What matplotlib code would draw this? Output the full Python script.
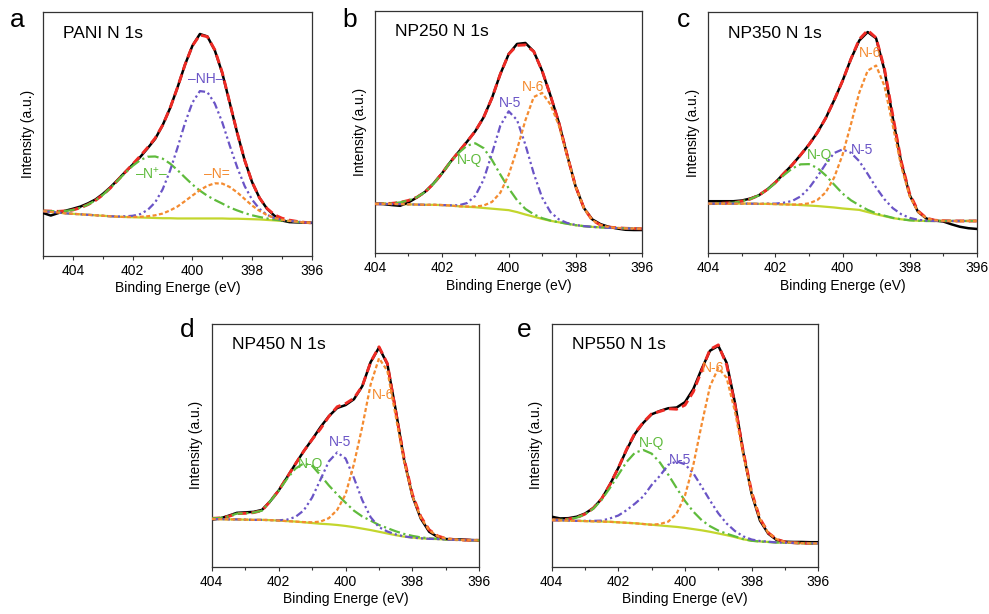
import matplotlib
matplotlib.use("Agg")
import matplotlib.pyplot as plt
from matplotlib.ticker import MultipleLocator
import numpy as np

plt.rcParams['font.family'] = ['Liberation Sans', 'DejaVu Sans']
plt.rcParams['mathtext.fontset'] = 'custom'
plt.rcParams['mathtext.rm'] = 'Liberation Sans'
plt.rcParams['mathtext.it'] = 'Liberation Sans'

# ---------------- data (binding energy in eV, intensity in a.u.) ----------------
BE_A = [405.0, 404.75, 404.5, 404.25, 404.0, 403.75, 403.5, 403.25, 403.0, 402.75,
        402.5, 402.25, 402.0, 401.75, 401.5, 401.25, 401.0, 400.75, 400.5, 400.25,
        400.0, 399.75, 399.5, 399.25, 399.0, 398.75, 398.5, 398.25, 398.0, 397.75,
        397.5, 397.25, 397.0, 396.75, 396.5, 396.25, 396.0]
BE = [404.0, 403.75, 403.5, 403.25, 403.0, 402.75, 402.5, 402.25, 402.0, 401.75,
      401.5, 401.25, 401.0, 400.75, 400.5, 400.25, 400.0, 399.75, 399.5, 399.25,
      399.0, 398.75, 398.5, 398.25, 398.0, 397.75, 397.5, 397.25, 397.0, 396.75,
      396.5, 396.25, 396.0]

# Panel a: PANI
A_RAW = [17.6, 16.6, 17.6, 18.6, 19.4, 20.3, 21.6, 23.2, 25.5, 28.2, 31.3, 34.5, 37.5,
         40.6, 44.2, 48.0, 53.6, 60.6, 69.1, 78.4, 86.2, 91.0, 90.0, 84.3, 75.0, 62.8,
         50.5, 39.3, 30.3, 23.8, 19.4, 16.5, 14.6, 13.9, 13.8, 13.7, 13.6]
A_BG = [18.4, 18.1, 17.8, 17.5, 17.3, 17.1, 16.9, 16.7, 16.5, 16.3, 16.1, 16.0, 15.9,
        15.8, 15.7, 15.6, 15.5, 15.5, 15.4, 15.4, 15.4, 15.4, 15.4, 15.4, 15.4, 15.3,
        15.3, 15.2, 15.1, 15.0, 14.8, 14.6, 14.4, 14.2, 14.0, 13.8, 13.6]
A_NPLUS = [0.1, 0.3, 0.5, 1.0, 1.6, 2.7, 4.2, 6.1, 8.6, 11.6, 14.9, 18.1, 21.1, 23.5,
           25.0, 25.2, 24.4, 22.4, 19.8, 16.8, 13.9, 11.4, 9.3, 7.6, 6.1, 4.6, 3.4, 2.4,
           1.6, 1.0, 0.6, 0.3, 0.2, 0.1, 0.0, 0.0, 0.0]
A_NH = [0, 0, 0, 0, 0, 0, 0, 0, 0, 0, 0.1, 0.3, 0.6, 1.4, 3.2, 6.4, 11.8, 19.5, 29.0,
        39.1, 47.5, 52.2, 51.8, 47.1, 39.4, 30.0, 21.1, 13.5, 8.0, 4.3, 2.1, 1.0, 0.4,
        0.2, 0.1, 0.0, 0.0]
A_NEQ = [0, 0, 0, 0, 0, 0, 0, 0, 0, 0, 0, 0, 0.1, 0.3, 0.6, 1.1, 1.9, 3.2, 4.9, 7.1,
         9.4, 11.6, 13.4, 14.4, 14.3, 13.0, 10.8, 8.2, 5.6, 3.5, 2.0, 1.0, 0.5, 0.2,
         0.1, 0.0, 0.0]

# Panel b: NP250
B_RAW = [20.4, 20.3, 19.9, 19.6, 21.0, 23.0, 25.4, 28.8, 32.9, 37.6, 41.8, 46.0, 50.4,
         56.1, 64.1, 74.0, 82.2, 86.4, 86.8, 83.3, 75.3, 65.1, 54.0, 40.5, 27.7, 18.7,
         14.0, 12.0, 10.9, 10.2, 9.7, 9.6, 9.6]
B_BG = [20.4, 20.4, 20.3, 20.3, 20.2, 20.1, 20.0, 20.0, 19.9, 19.7, 19.4, 19.2, 19.0,
        18.7, 18.4, 18.1, 17.8, 17.0, 16.0, 15.1, 14.2, 13.4, 12.8, 12.2, 11.6, 11.2,
        10.9, 10.7, 10.5, 10.4, 10.3, 10.2, 10.1]
B_NQ = [0.0, 0.1, 0.3, 0.7, 1.6, 3.0, 5.3, 8.7, 13.0, 17.8, 22.0, 25.2, 26.4, 24.7,
        20.1, 14.4, 9.0, 4.9, 2.3, 1.0, 0.3, 0.1, 0, 0, 0, 0, 0, 0, 0, 0, 0, 0, 0]
B_N5 = [0, 0, 0, 0, 0, 0, 0, 0, 0, 0.1, 0.4, 1.5, 4.7, 11.7, 22.8, 34.6, 40.8, 38.0,
        28.8, 17.8, 8.8, 3.6, 1.2, 0.3, 0.1, 0, 0, 0, 0, 0, 0, 0, 0]
B_N6 = [0, 0, 0, 0, 0, 0, 0, 0, 0, 0, 0, 0.1, 0.3, 1.0, 2.8, 6.9, 14.6, 25.9, 38.9,
        49.4, 52.0, 48.0, 40.0, 28.0, 16.0, 7.5, 2.8, 0.9, 0.3, 0.1, 0, 0, 0]

# Panel c: NP350
C_RAW = [21.6, 21.6, 21.6, 21.6, 21.9, 22.7, 24.0, 26.4, 29.4, 33.1, 36.7, 40.8, 45.1,
         50.1, 56.1, 63.5, 71.5, 80.6, 88.3, 91.8, 89.2, 76.0, 56.0, 37.6, 24.2, 17.2,
         14.4, 13.6, 13.2, 12.0, 11.0, 10.4, 10.1]
C_BG = [20.6, 20.6, 20.6, 20.6, 20.6, 20.6, 20.5, 20.5, 20.4, 20.3, 20.2, 20.0, 19.8,
        19.6, 19.3, 19.0, 18.6, 18.3, 18.0, 17.1, 16.2, 15.4, 14.6, 14.1, 13.7, 13.5,
        13.4, 13.4, 13.4, 13.4, 13.4, 13.4, 13.4]
C_NQ = [0.0, 0.1, 0.2, 0.4, 1.0, 1.9, 3.5, 5.8, 8.8, 12.1, 15.0, 16.9, 17.2, 15.8,
        13.0, 9.5, 6.2, 3.7, 1.9, 0.9, 0.4, 0.2, 0.1, 0, 0, 0, 0, 0, 0, 0, 0, 0, 0]
C_N5 = [0, 0, 0, 0, 0, 0, 0, 0.1, 0.2, 0.7, 1.5, 3.6, 7.2, 12.2, 17.8, 22.6, 24.5,
        23.4, 20.2, 15.8, 11.1, 7.0, 4.1, 2.1, 1.0, 0.4, 0.1, 0, 0, 0, 0, 0, 0]
C_N6 = [0, 0, 0, 0, 0, 0, 0, 0, 0, 0, 0, 0.3, 0.9, 2.5, 6.0, 12.4, 22.2, 35.2, 48.7,
        58.7, 61.7, 54.0, 38.2, 21.9, 10.0, 3.7, 1.1, 0.3, 0.1, 0, 0, 0, 0]

# Panel d: NP450
D_RAW = [19.4, 19.9, 21.0, 22.2, 22.4, 22.6, 23.4, 27.0, 31.4, 36.8, 42.3, 47.6, 52.4,
         57.5, 62.0, 65.4, 66.6, 69.0, 74.4, 84.3, 90.3, 83.5, 64.5, 44.0, 29.0, 19.8,
         14.4, 12.3, 11.4, 11.3, 11.2, 11.0, 10.9]
D_BG = [19.6, 19.6, 19.5, 19.5, 19.4, 19.3, 19.3, 19.2, 19.0, 18.8, 18.6, 18.3, 18.0,
        17.7, 17.5, 17.2, 16.8, 16.3, 15.7, 15.1, 14.4, 13.7, 13.0, 12.4, 12.0, 11.7,
        11.5, 11.4, 11.2, 11.1, 11.0, 10.9, 10.9]
D_NQ = [0.3, 0.5, 1.2, 2.4, 2.6, 3.0, 3.8, 7.8, 12.3, 17.4, 21.8, 24.3, 23.6, 20.0,
        16.0, 12.6, 9.6, 6.8, 5.0, 3.9, 2.8, 2.2, 1.6, 1.1, 0.7, 0.4, 0.2, 0.1, 0, 0,
        0, 0, 0]
D_N5 = [0, 0, 0, 0, 0, 0, 0, 0, 0.1, 0.6, 1.9, 4.9, 10.5, 18.2, 25.9, 29.9, 27.8, 20.3,
        11.7, 5.3, 1.9, 0.8, 0.3, 0.1, 0, 0, 0, 0, 0, 0, 0, 0, 0]
D_N6 = [0, 0, 0, 0, 0, 0, 0, 0, 0, 0, 0, 0.1, 0.3, 0.9, 2.5, 6.2, 13.0, 26.0, 42.0,
        60.0, 71.5, 67.0, 49.0, 31.0, 17.0, 8.5, 3.5, 1.2, 0.4, 0.1, 0, 0, 0]

# Panel e: NP550
E_RAW = [20.6, 19.9, 20.0, 20.6, 21.9, 24.2, 28.0, 33.9, 40.7, 48.2, 54.8, 59.3, 62.8,
         64.2, 65.3, 65.6, 67.8, 73.2, 81.5, 89.0, 91.0, 84.0, 67.5, 47.0, 30.0, 19.0,
         13.6, 11.0, 10.3, 10.2, 10.2, 10.1, 10.1]
E_BG = [19.2, 19.1, 19.0, 18.9, 18.8, 18.7, 18.6, 18.5, 18.3, 18.1, 17.9, 17.6, 17.3,
        17.0, 16.7, 16.4, 16.0, 15.5, 15.0, 14.4, 13.7, 13.0, 12.2, 11.3, 10.7, 10.4,
        10.2, 10.0, 9.9, 9.8, 9.7, 9.6, 9.6]
E_NQ = [0.1, 0.2, 0.6, 1.3, 2.8, 5.2, 9.0, 14.0, 19.6, 25.1, 29.1, 30.5, 29.3, 25.9,
        21.2, 16.0, 11.1, 7.2, 4.2, 2.3, 1.2, 0.6, 0.3, 0.1, 0, 0, 0, 0, 0, 0, 0, 0, 0]
E_N5 = [0, 0, 0, 0, 0.1, 0.2, 0.4, 1.4, 2.8, 5.2, 8.1, 11.4, 16.4, 20.5, 25.3, 27.0,
        26.2, 23.0, 18.0, 12.9, 8.3, 4.8, 2.5, 1.2, 0.5, 0.2, 0.1, 0, 0, 0, 0, 0, 0]
E_N6 = [0, 0, 0, 0, 0, 0, 0, 0, 0, 0, 0, 0, 0, 0.6, 1.9, 5.5, 13.3, 26.4, 43.6, 59.9,
        68.2, 64.8, 51.7, 34.7, 19.6, 9.2, 3.7, 1.3, 0.3, 0.1, 0, 0, 0]

TITLES = ["PANI N 1s", "NP250 N 1s", "NP350 N 1s", "NP450 N 1s", "NP550 N 1s"]
LETTERS = ["a", "b", "c", "d", "e"]
XTICKS = [404, 402, 400, 398, 396]

# ---------------- style ----------------
GREEN = '#5fbb3c'
PURPLE = '#6a54c6'
ORANGE = '#f48b30'
RED = '#ee2a24'
BGCOL = '#c3d62d'
COMP_COLORS = [GREEN, PURPLE, ORANGE]
COMP_STYLES = [(0, (5, 1.6, 1, 1.6)), (0, (3.4, 1.4, 1, 1.4, 1, 1.4)), (0, (1.8, 1.1))]

panels = [
    dict(be=BE_A, raw=A_RAW, bg=A_BG, comps=[A_NPLUS, A_NH, A_NEQ], xlim=(405, 396),
         rect=[0.0438, 0.583, 0.2714, 0.3974],
         labels=[('–NH–', 399.57, 72.5, PURPLE), ('–N$^{+}$–', 401.36, 33.8, GREEN),
                 ('–N=', 399.18, 33.8, ORANGE)],
         letter_xy=(10, 27)),
    dict(be=BE, raw=B_RAW, bg=B_BG, comps=[B_NQ, B_N5, B_N6], xlim=(404, 396),
         rect=[0.3792, 0.5875, 0.2703, 0.3946],
         labels=[('N-Q', 401.16, 38.5, GREEN), ('N-5', 399.96, 62.2, PURPLE),
                 ('N-6', 399.26, 68.8, ORANGE)],
         letter_xy=(342, 27)),
    dict(be=BE, raw=C_RAW, bg=C_BG, comps=[C_NQ, C_N5, C_N6], xlim=(404, 396),
         rect=[0.7162, 0.5875, 0.2714, 0.3925],
         labels=[('N-Q', 400.69, 40.8, GREEN), ('N-5', 399.43, 42.9, PURPLE),
                 ('N-6', 399.18, 83.0, ORANGE)],
         letter_xy=(677, 27)),
    dict(be=BE, raw=D_RAW, bg=D_BG, comps=[D_NQ, D_N5, D_N6], xlim=(404, 396),
         rect=[0.2141, 0.0770, 0.2706, 0.3953],
         labels=[('N-Q', 401.06, 42.3, GREEN), ('N-5', 400.17, 51.5, PURPLE),
                 ('N-6', 398.87, 70.7, ORANGE)],
         letter_xy=(180, 337)),
    dict(be=BE, raw=E_RAW, bg=E_BG, comps=[E_NQ, E_N5, E_N6], xlim=(404, 396),
         rect=[0.5578, 0.0770, 0.2696, 0.3953],
         labels=[('N-Q', 401.0, 50.8, GREEN), ('N-5', 400.15, 44.0, PURPLE),
                 ('N-6', 399.15, 81.7, ORANGE)],
         letter_xy=(517, 337)),
]

W, H = 989, 614
fig = plt.figure(figsize=(W / 100, H / 100), dpi=100)

for i, p in enumerate(panels):
    ax = fig.add_axes(p['rect'])
    be = np.array(p['be'])
    bg = np.array(p['bg'])
    comps = [np.array(c) for c in p['comps']]
    fit = bg + sum(comps)

    ax.plot(be, bg, color=BGCOL, lw=1.6, zorder=2)
    ax.plot(be, p['raw'], color='black', lw=1.8, zorder=3)
    ax.plot(be, fit, color=RED, lw=2.1, ls=(0, (3, 1.6)), zorder=4)
    for c, col, ls in zip(comps, COMP_COLORS, COMP_STYLES):
        ax.plot(be, bg + c, color=col, lw=1.6, ls=ls, zorder=5)

    for txt, x, y, col in p['labels']:
        ax.text(x, y, txt, color=col, fontsize=10, ha='center', va='center', zorder=6)

    ax.text(0.075, 0.895, TITLES[i], transform=ax.transAxes, fontsize=12.5,
            ha='left', va='baseline')

    ax.set_xlim(*p['xlim'])
    ax.set_ylim(0, 100)
    ax.set_xticks(XTICKS)
    ax.xaxis.set_minor_locator(MultipleLocator(1))
    ax.tick_params(axis='x', which='major', direction='out', length=3.2, width=0.8,
                   labelsize=10, pad=2.5, color='#333333')
    ax.tick_params(axis='x', which='minor', direction='out', length=2.2, width=0.8,
                   color='#333333')
    ax.set_yticks([])
    for s in ax.spines.values():
        s.set_linewidth(0.9)
        s.set_color('#333333')
    ax.set_xlabel('Binding Energe (eV)', fontsize=10, labelpad=2.5)
    ax.set_ylabel('Intensity (a.u.)', fontsize=10, labelpad=6)

    lx, ly = p['letter_xy']
    fig.text(lx / W, 1 - ly / H, LETTERS[i], fontsize=19, ha='left', va='baseline')

fig.savefig('out.png', dpi=100)
